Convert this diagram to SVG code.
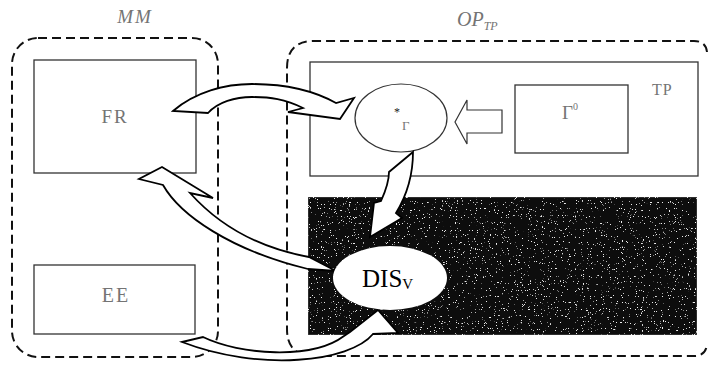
<svg xmlns="http://www.w3.org/2000/svg" width="712" height="365" viewBox="0 0 712 365">
  <style>
    .frame { fill: none; stroke: #111; stroke-width: 2; stroke-dasharray: 9 5; }
    .box { fill: #fff; stroke: #333; stroke-width: 1.3; }
    .label { font-family: "Liberation Serif", "Times New Roman", serif; fill: #747474; }
    .ital { font-style: italic; }
    .conn { fill: #fff; stroke: #000; stroke-width: 1.8; stroke-linejoin: miter; }
  </style>
  <defs>
    <filter id="grain" x="0" y="0" width="100%" height="100%">
      <feTurbulence type="fractalNoise" baseFrequency="0.85" numOctaves="2" seed="7" result="n"/>
      <feColorMatrix in="n" type="matrix" values="0 0 0 0 0.85  0 0 0 0 0.85  0 0 0 0 0.85  0 0 0 15 -10.4" result="specks"/>
      <feComposite in="specks" in2="SourceGraphic" operator="in" result="clip"/>
      <feMerge>
        <feMergeNode in="SourceGraphic"/>
        <feMergeNode in="clip"/>
      </feMerge>
    </filter>
  </defs>

  <rect x="0" y="0" width="712" height="365" fill="#fff"/>

  <!-- MM container -->
  <g id="mm">
    <rect class="frame" x="12" y="38" width="206" height="319" rx="26" ry="26"/>
    <text class="label ital" x="135" y="23" font-size="19" text-anchor="middle" letter-spacing="2">MM</text>
  </g>

  <!-- OP_TP container (right edge runs off the sheet) -->
  <g id="op-tp">
    <path class="frame" d="M707 52 Q706 41 694 41 L314 41 Q287 41 287 68 L287 329 Q287 356 314 356 L694 356 Q706 356 707 344"/>
    <text class="label ital" x="457" y="26" font-size="20">OP<tspan font-size="12" dy="4">TP</tspan></text>
  </g>

  <!-- FR -->
  <g id="fr">
    <rect class="box" x="34" y="60" width="162" height="113"/>
    <text class="label" x="115" y="123" font-size="19" text-anchor="middle" letter-spacing="2">FR</text>
  </g>

  <!-- EE -->
  <g id="ee">
    <rect class="box" x="34" y="265" width="161" height="69"/>
    <text class="label" x="116" y="302" font-size="20" text-anchor="middle" letter-spacing="2">EE</text>
  </g>

  <!-- TP -->
  <g id="tp">
    <rect class="box" x="310" y="62" width="388" height="114"/>
    <text class="label" x="652" y="95" font-size="16" letter-spacing="1">TP</text>
  </g>

  <!-- Γ0 -->
  <g id="gamma0">
    <rect class="box" x="515" y="85" width="113" height="68"/>
    <text class="label" x="562" y="119" font-size="19">Γ<tspan font-size="10" dy="-9">0</tspan></text>
  </g>

  <!-- *Γ -->
  <g id="gamma-star">
    <ellipse cx="401" cy="118" rx="46" ry="34" fill="#fff" stroke="#333" stroke-width="1.2"/>
    <text x="394" y="116" font-family="Liberation Serif, serif" font-size="12" fill="#222">*</text>
    <text class="label" x="402" y="130" font-size="13">Γ</text>
  </g>

  <!-- DIS_V area -->
  <g id="dis-area">
    <rect x="308" y="197" width="389" height="138" fill="#0a0a0a" stroke="#555" stroke-width="1" filter="url(#grain)"/>
  </g>

  <!-- connectors: block arrows -->
  <g id="connectors">
    <!-- Γ0 to *Γ -->
    <path d="M502 110 L467 110 L467 100 L455 122 L467 144 L467 133 L502 133 Z" fill="#fff" stroke="#333" stroke-width="1.2"/>
    <!-- FR to *Γ -->
    <path class="conn" stroke-width="1.4" d="M173 111 C195 92 225 84 252 84 C290 84 318 93 336 103 L354 98 L340 119 L288 112 L303 108 C285 99 270 97 252 97 C235 97 218 102 208 113 Z"/>
    <!-- *Γ to DIS_V -->
    <path class="conn" stroke-width="2.2" d="M413 152 C413 175 407 195 396 213 L402 218 L370 237 L374 203 L381 201 C386 190 389 180 389 172 Z"/>
    <!-- DIS_V to FR -->
    <path class="conn" d="M336 271 L309 257 C270 250 225 232 190 193 L213 198 L162 167 L139 179 L163 185 C180 215 230 250 308 269 Z"/>
    <!-- EE to DIS_V -->
    <path class="conn" d="M182 342 L203 337 C240 355 312 360 344 336 L350 332 L378 310 L398 333 L373 334 C350 362 260 372 182 342 Z"/>
  </g>

  <!-- DIS_V -->
  <g id="dis">
    <ellipse cx="390" cy="278" rx="57" ry="32" fill="#fff"/>
    <text x="362" y="287" font-family="Liberation Serif, serif" font-size="25" fill="#000">DIS<tspan font-size="15" dy="2">V</tspan></text>
  </g>
</svg>
